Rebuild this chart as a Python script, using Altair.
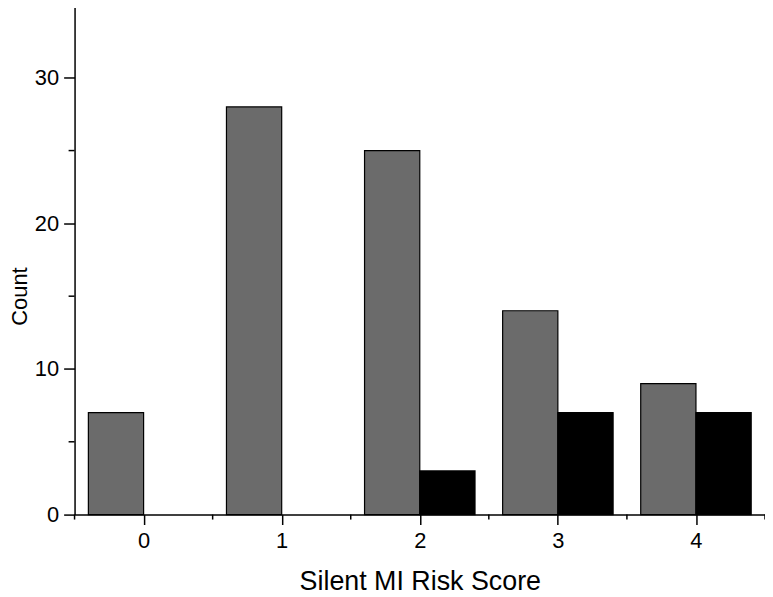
import altair as alt
import pandas as pd

scores = [0, 1, 2, 3, 4]
grey_counts = [7, 28, 25, 14, 9]
black_counts = [0, 0, 3, 7, 7]
x_major = [0, 1, 2, 3, 4]
x_minor = [-0.5, 0.5, 1.5, 2.5, 3.5, 4.5]
y_major = [0, 10, 20, 30]
y_minor = [5, 15, 25, 35]

W, H = 695, 513
FONT = "Liberation Sans"

df = pd.DataFrame({"score": scores, "grey": grey_counts, "black": black_counts})

xscale = alt.Scale(domain=[-0.5, 4.5], nice=False, zero=False)
yscale = alt.Scale(domain=[0, 35], nice=False)

xaxis = alt.Axis(values=x_major, title="Silent MI Risk Score", format="d",
                 tickSize=10, tickWidth=1.5, domainWidth=1.5,
                 domainColor="black", tickColor="black",
                 labelFontSize=22, labelPadding=6, labelColor="black",
                 labelFont=FONT, titleFont=FONT, titleFontSize=27,
                 titleFontWeight="normal", titleColor="black",
                 titlePadding=17, grid=False)
yaxis = alt.Axis(values=y_major, title="Count", format="d",
                 tickSize=11, tickWidth=1.5, domainWidth=1.5,
                 domainColor="black", tickColor="black",
                 labelFontSize=22, labelPadding=5, labelColor="black",
                 labelFont=FONT, titleFont=FONT, titleFontSize=22,
                 titleFontWeight="normal", titleColor="black",
                 titleX=-48, titleY=293, titleAngle=270,
                 titleBaseline="alphabetic", titleAlign="center", grid=False)

bars = alt.Chart(df).transform_fold(
    ["grey", "black"], as_=["series", "count"]
).transform_filter(
    "datum.count > 0"
).transform_calculate(
    x0="datum.series == 'grey' ? datum.score - 0.4 : datum.score",
    x1="datum.series == 'grey' ? datum.score : datum.score + 0.4",
).mark_bar(stroke="black", strokeWidth=1.2).encode(
    x=alt.X("x0:Q", scale=xscale, axis=xaxis),
    x2="x1:Q",
    y=alt.Y("count:Q", scale=yscale, axis=yaxis),
    y2=alt.datum(0),
    color=alt.Color("series:N",
                    scale=alt.Scale(domain=["grey", "black"], range=["#6b6b6b", "#000000"]),
                    legend=None),
)

xminor = alt.Chart(pd.DataFrame({"v": x_minor})).mark_rule(color="black", strokeWidth=1.5).encode(
    x=alt.X("v:Q", scale=xscale, axis=xaxis),
    y=alt.value(H),
    y2=alt.value(H + 5),
)

yminor = alt.Chart(pd.DataFrame({"v": y_minor})).mark_rule(color="black", strokeWidth=1.5).encode(
    y=alt.Y("v:Q", scale=yscale, axis=yaxis),
    x=alt.value(0),
    x2=alt.value(-6),
)

chart = alt.layer(bars, xminor, yminor).properties(
    width=W, height=H,
    autosize=alt.AutoSizeParams(type="none"),
    padding={"left": 67, "top": -5, "right": 0, "bottom": 80},
).configure_view(stroke=None)

chart.save("out.html", embed_options={"renderer": "svg", "actions": False})
